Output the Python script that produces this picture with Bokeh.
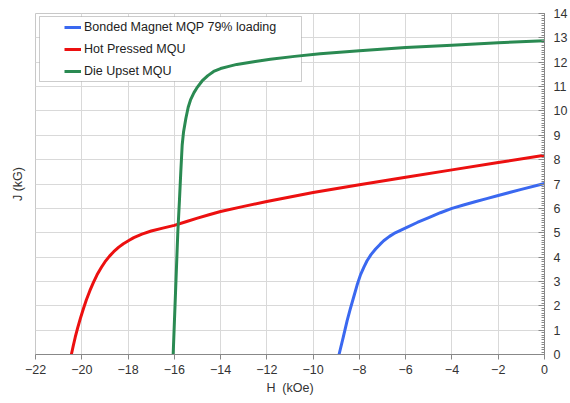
from bokeh.plotting import figure
from bokeh.models import (LinearAxis, FixedTicker, SingleIntervalTicker, Legend, LegendItem,
                          BoxAnnotation, Range1d)
from bokeh.embed import file_html
from bokeh.resources import INLINE

# ---- data ----
bonded_h = [-8.88, -8.7, -8.53, -8.4, -8.25, -8.1, -7.95, -7.8, -7.67, -7.5, -7.3, -7.1, -6.95, -6.7,
            -6.5, -6.2, -5.95, -5.5, -5.0, -4.5, -4.0, -3.5, -3.0, -2.5, -2.0, -1.0, 0.0]
bonded_j = [0.0, 0.7, 1.39, 1.85, 2.35, 2.85, 3.28, 3.6, 3.85, 4.1, 4.33, 4.53, 4.67, 4.85,
            4.97, 5.11, 5.22, 5.42, 5.62, 5.82, 6.0, 6.14, 6.27, 6.4, 6.53, 6.78, 7.02]

hot_h = [-20.45, -20.37, -20.28, -20.18, -20.06, -19.93, -19.8, -19.65, -19.5, -19.34, -19.15, -19.0, -18.8,
         -18.62, -18.4, -18.2, -17.95, -17.75, -17.4, -17.0, -16.5, -16.0, -15.5, -15.0, -14.5,
         -14.0, -13.0, -12.0, -11.0, -10.0, -8.0, -6.0, -4.0, -2.0, 0.0]
hot_j = [0.0, 0.35, 0.72, 1.08, 1.48, 1.88, 2.25, 2.62, 2.95, 3.27, 3.58, 3.8, 4.04,
         4.22, 4.41, 4.55, 4.69, 4.8, 4.94, 5.07, 5.19, 5.3, 5.45, 5.6, 5.74,
         5.87, 6.08, 6.28, 6.47, 6.65, 6.97, 7.28, 7.58, 7.88, 8.18]

die_h = [-16.05, -15.95, -15.85, -15.78, -15.72, -15.66, -15.6, -15.5, -15.4, -15.3, -15.15, -15.0,
         -14.8, -14.55, -14.3, -14.0, -13.6, -13.3, -12.5, -11.85, -10.8, -9.7, -8.0, -6.0, -4.0, -2.0, 0.0]
die_j = [0.0, 2.5, 5.0, 6.3, 7.5, 8.6, 9.15, 9.7, 10.15, 10.45, 10.75, 10.98,
         11.23, 11.45, 11.62, 11.74, 11.84, 11.91, 12.03, 12.12, 12.24, 12.35, 12.47, 12.6, 12.7, 12.8, 12.88]

series_names = ["Bonded Magnet MQP 79% loading", "Hot Pressed MQU", "Die Upset MQU"]
series_colors = ["#3a68f0", "#ec1010", "#2a8a52"]

x_title = "H \u00a0(kOe)"
y_title = "J (kG)"

FONT = "Liberation Sans"
FS = "12.5px"

p = figure(width=570, height=403, output_backend="svg", toolbar_location=None,
           x_range=Range1d(-22, 0), y_range=Range1d(0, 14),
           y_axis_location="right",
           min_border_left=35, min_border_right=25, min_border_top=13, min_border_bottom=49)
p.background_fill_color = "white"
p.border_fill_color = "white"
p.outline_line_color = "#c8c8c8"

# bottom axis
xa = p.xaxis[0]
xa.ticker = SingleIntervalTicker(interval=2, num_minor_ticks=0)
xa.axis_line_color = "#888888"
xa.major_tick_line_color = "#888888"
xa.major_tick_out = 5
xa.major_tick_in = 0
xa.minor_tick_line_color = None
xa.major_label_standoff = 5
xa.major_label_text_font = FONT
xa.major_label_text_font_size = FS
xa.major_label_text_color = "#333333"
xa.axis_label = x_title
xa.axis_label_text_font = FONT
xa.axis_label_text_font_size = FS
xa.axis_label_text_font_style = "normal"
xa.axis_label_text_color = "#333333"
xa.axis_label_standoff = 4

# right axis
ya = p.yaxis[0]
ya.ticker = SingleIntervalTicker(interval=1, num_minor_ticks=10)
ya.axis_line_color = "#888888"
ya.major_tick_line_color = "#888888"
ya.minor_tick_line_color = "#888888"
ya.major_tick_in = 6
ya.major_tick_out = 0
ya.minor_tick_in = 3
ya.minor_tick_out = 0
ya.major_label_standoff = 9
ya.major_label_text_font = FONT
ya.major_label_text_font_size = FS
ya.major_label_text_color = "#333333"

# left axis: title only
la = LinearAxis(ticker=FixedTicker(ticks=[]), axis_label=y_title)
la.axis_line_color = None
la.major_tick_line_color = None
la.minor_tick_line_color = None
la.major_tick_out = 0
la.major_label_standoff = 0
la.axis_label_text_font = FONT
la.axis_label_text_font_size = FS
la.axis_label_text_font_style = "normal"
la.axis_label_text_color = "#333333"
la.axis_label_standoff = 11
p.add_layout(la, "left")

p.xgrid.grid_line_color = "#d9d9d9"
p.ygrid.grid_line_color = "#d9d9d9"

# legend frame
box = BoxAnnotation(left=39, right=301, top=16, bottom=81,
                    left_units="canvas", right_units="canvas", top_units="canvas", bottom_units="canvas",
                    fill_color="white", fill_alpha=1.0, line_color="#555555", line_width=1,
                    level="underlay")
p.add_layout(box)

r1 = p.line(bonded_h, bonded_j, line_color=series_colors[0], line_width=3, line_join="round")
r2 = p.line(hot_h, hot_j, line_color=series_colors[1], line_width=3, line_join="round")
r3 = p.line(die_h, die_j, line_color=series_colors[2], line_width=3, line_join="round")

legend = Legend(items=[LegendItem(label=series_names[0], renderers=[r1]),
                       LegendItem(label=series_names[1], renderers=[r2]),
                       LegendItem(label=series_names[2], renderers=[r3])],
                location=(29, 273), padding=0, margin=0, spacing=2,
                glyph_width=17, glyph_height=20, label_height=20, label_standoff=3,
                label_text_font=FONT, label_text_font_size=FS, label_text_color="#222222",
                border_line_color=None, background_fill_alpha=0)
p.add_layout(legend)

open("out.html", "w").write(file_html(p, INLINE))
